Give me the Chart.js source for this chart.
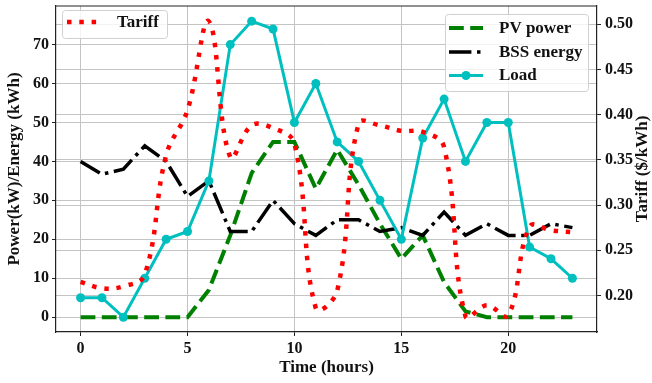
<!DOCTYPE html>
<html><head><meta charset="utf-8">
<script src="https://cdn.jsdelivr.net/npm/chart.js@4.4.0/dist/chart.umd.min.js"></script>
<style>html,body{margin:0;padding:0;background:#fff;} canvas{display:block;}</style>
</head><body>
<canvas id="c" width="652" height="383"></canvas>
<script>
const hours = [0,1,2,3,4,5,6,7,8,9,10,11,12,13,14,15,16,17,18,19,20,21,22,23];
const pvPower = [0,0,0,0,0,0,7,21,37,45,45,33,43,34,24,15,21,9,1.5,0,0,0,0,0];
const bssEnergy = [40,36.7,38,44,40,31,35,22,22,30,24,21,25,25,22,23,21,27,21,24,21,21,24,23];
const load = [5,5,0,10,20,22,35,70,76,74,50,60,45,40,30,20,46,56,40,50,50,18,15,10];
const tariff = [0.215,0.208,0.210,0.223,0.355,0.405,0.503,0.353,0.388,0.385,0.368,0.186,0.205,0.390,0.388,0.382,0.381,0.364,0.177,0.189,0.178,0.276,0.272,0.270];
const xTicks = [0,5,10,15,20];
const leftTicks = [0,10,20,30,40,50,60,70];
const rightTicks = [0.20,0.25,0.30,0.35,0.40,0.45,0.50];
const seriesNames = ['PV power','BSS energy','Load','Tariff'];
const axisTitles = {x:'Time (hours)', y:'Power(kW)/Energy (kWh)', y1:'Tariff ($/kWh)'};

const FAM = "'Liberation Serif','Times New Roman',serif";
const toXY = arr => arr.map((v,i)=>({x:hours[i], y:v}));

const dsPV = {label:seriesNames[0], data:toXY(pvPower), yAxisID:'y', borderColor:'#008000', borderWidth:4, borderDash:[14.8,6.4], pointRadius:0, tension:0, order:3, fill:false, borderCapStyle:'butt'};
const dsBSS = {label:seriesNames[1], data:toXY(bssEnergy), yAxisID:'y', borderColor:'#000000', borderWidth:3.5, borderDash:[22.4,5.6,3.5,5.6], pointRadius:0, tension:0, order:2, fill:false, borderCapStyle:'butt'};
const dsLoad = {label:seriesNames[2], data:toXY(load), yAxisID:'y', borderColor:'#00bfbf', backgroundColor:'#00bfbf', pointBackgroundColor:'#00bfbf', pointBorderColor:'#00bfbf', borderWidth:3, pointRadius:4.5, pointBorderWidth:0, tension:0, order:1, fill:false};
const dsTariff = {label:seriesNames[3], data:toXY(tariff), yAxisID:'y1', borderColor:'#ff0000', borderWidth:4.5, borderDash:[4.5,7.8], pointRadius:0, tension:0.4, order:0, fill:false, borderCapStyle:'butt'};

function roundBox(ctx,x,y,w,h,r){
  ctx.beginPath();
  ctx.moveTo(x+r,y); ctx.lineTo(x+w-r,y); ctx.quadraticCurveTo(x+w,y,x+w,y+r);
  ctx.lineTo(x+w,y+h-r); ctx.quadraticCurveTo(x+w,y+h,x+w-r,y+h);
  ctx.lineTo(x+r,y+h); ctx.quadraticCurveTo(x,y+h,x,y+h-r);
  ctx.lineTo(x,y+r); ctx.quadraticCurveTo(x,y,x+r,y); ctx.closePath();
}
function sample(ctx, ds, x1, x2, y){
  ctx.save();
  ctx.strokeStyle = ds.borderColor; ctx.lineWidth = ds.borderWidth;
  ctx.setLineDash(ds.borderDash || []); ctx.lineCap='butt';
  ctx.beginPath(); ctx.moveTo(x1,y); ctx.lineTo(x2,y); ctx.stroke();
  if (ds.pointRadius){ ctx.setLineDash([]); ctx.fillStyle=ds.pointBackgroundColor; ctx.beginPath(); ctx.arc((x1+x2)/2,y,ds.pointRadius,0,Math.PI*2); ctx.fill(); }
  ctx.restore();
}
const extras = {
  id:'extras',
  afterDraw(chart){
    const ctx = chart.ctx, a = chart.chartArea;
    ctx.save();
    ctx.strokeStyle='#222'; ctx.lineWidth=1.2;
    ctx.beginPath(); ctx.moveTo(a.left,a.top); ctx.lineTo(a.right,a.top); ctx.stroke();
    ctx.fillStyle='#111'; ctx.font="bold 17px "+FAM; ctx.textAlign='center'; ctx.textBaseline='middle';
    ctx.translate(643,(a.top+a.bottom)/2); ctx.rotate(-Math.PI/2); ctx.fillText(axisTitles.y1,0,0);
    ctx.restore();
    ctx.save();
    ctx.font="bold 17px "+FAM; ctx.textBaseline='middle'; ctx.textAlign='left';
    roundBox(ctx,62.5,10.5,105,28,3);
    ctx.fillStyle='rgba(255,255,255,0.8)'; ctx.fill(); ctx.strokeStyle='#d0d0d0'; ctx.lineWidth=1; ctx.stroke();
    sample(ctx, dsTariff, 67, 101, 22);
    ctx.fillStyle='#111'; ctx.fillText(seriesNames[3],117,22.5);
    roundBox(ctx,445.5,14.5,143,77,3);
    ctx.fillStyle='rgba(255,255,255,0.8)'; ctx.fill(); ctx.strokeStyle='#d0d0d0'; ctx.lineWidth=1; ctx.stroke();
    const rows=[[dsPV,28],[dsBSS,52],[dsLoad,75.5]];
    rows.forEach(([ds,y],i)=>{ sample(ctx, ds, 449, 483, y); ctx.fillStyle='#111'; ctx.fillText(seriesNames[i],499,y+0.5); });
    ctx.restore();
  }
};

const tickFont = {family:FAM, weight:'bold', size:16};
const titleFont = {family:FAM, weight:'bold', size:17};
const gridCfg = {color:'#c4c4c4', lineWidth:1, tickLength:4, tickColor:'#222'};
const borderCfg = {color:'#222', width:1.2};
const zeroPad = s => { s.paddingTop = 0; s.paddingBottom = 0; s.paddingLeft = 0; s.paddingRight = 0; };

new Chart(document.getElementById('c'), {
  type:'line',
  data:{datasets:[dsTariff, dsLoad, dsBSS, dsPV]},
  options:{
    responsive:false, animation:false, devicePixelRatio:1,
    layout:{padding:{top:6,left:0,right:0,bottom:0}},
    plugins:{legend:{display:false}, tooltip:{enabled:false}},
    scales:{
      x:{type:'linear', position:'bottom', min:-1.15, max:24.15,
        afterBuildTicks:s=>{ s.ticks = xTicks.map(v=>({value:v})); },
        afterFit:s=>{ s.height = 51; zeroPad(s); },
        ticks:{font:tickFont, color:'#111', padding:3, maxRotation:0, autoSkip:false, callback:v=>String(v)},
        grid:gridCfg, border:borderCfg,
        title:{display:true, text:axisTitles.x, font:titleFont, color:'#111', padding:{top:0,bottom:5}}},
      y:{type:'linear', position:'left', min:-3.8, max:79.9,
        afterBuildTicks:s=>{ s.ticks = leftTicks.map(v=>({value:v})); },
        afterFit:s=>{ s.width = 56; zeroPad(s); },
        ticks:{font:tickFont, color:'#111', padding:3, callback:v=>String(v)},
        grid:gridCfg, border:borderCfg,
        title:{display:true, text:axisTitles.y, font:titleFont, color:'#111', padding:{top:4,bottom:0}}},
      y1:{type:'linear', position:'right', min:0.1595, max:0.5202,
        afterBuildTicks:s=>{ s.ticks = rightTicks.map(v=>({value:v})); },
        afterFit:s=>{ s.width = 55; zeroPad(s); },
        ticks:{font:tickFont, color:'#111', padding:4, callback:v=>Number(v).toFixed(2)},
        grid:gridCfg, border:borderCfg}
    }
  },
  plugins:[extras]
});
</script>
</body></html>
